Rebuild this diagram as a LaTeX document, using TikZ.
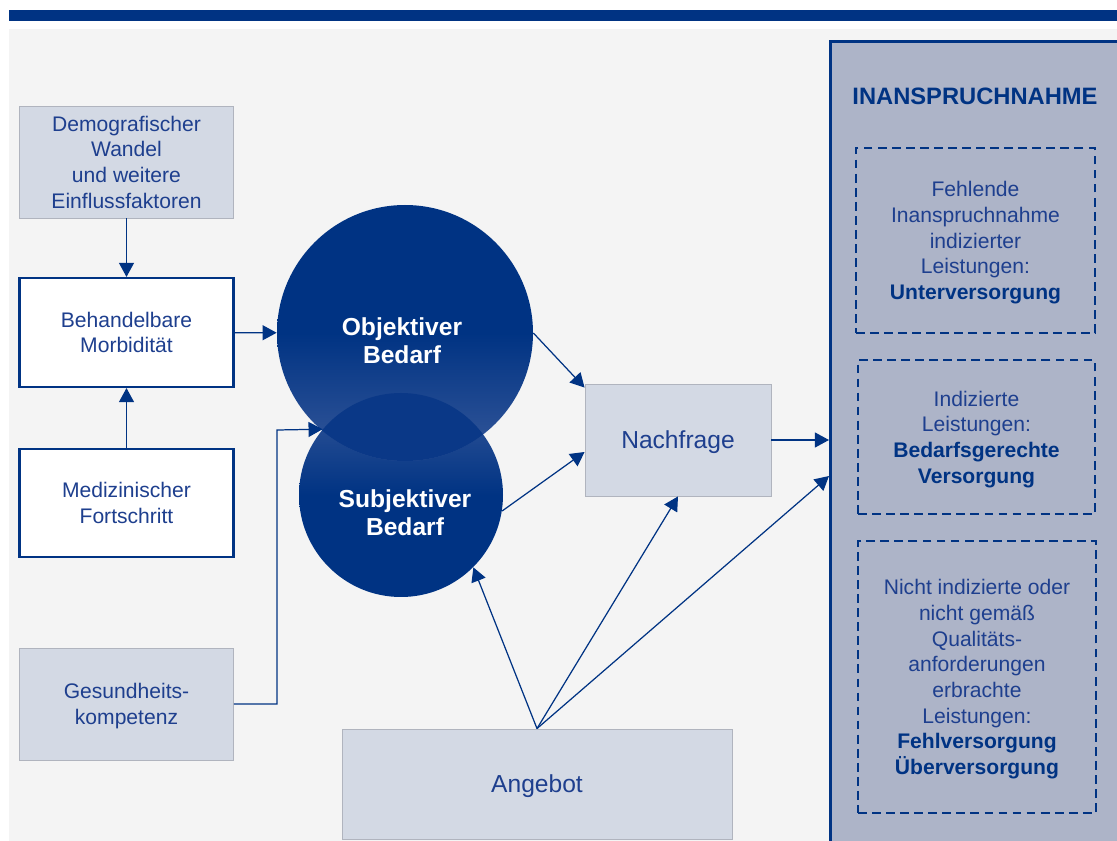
\documentclass[tikz,border=0pt]{standalone}
\usepackage{fontspec}
\setmainfont{Liberation Sans}
\usetikzlibrary{arrows.meta,positioning}

\begin{document}
\begin{tikzpicture}[x=0.02cm,y=-0.02cm,
    every node/.style={inner sep=0pt, align=center, text=txtBlue, text depth=0pt},
    boxsize/.style 2 args={minimum width=#1*0.02cm, minimum height=#2*0.02cm},
    smalltext/.style={font=\fontsize{12}{14.6}\selectfont},
    greybox/.style={smalltext, draw=edgeGrey, fill=fillGrey, line width=0.5pt},
    whitebox/.style={smalltext, draw=mainBlue, fill=white, line width=1.2pt},
    dashbox/.style={smalltext, draw=mainBlue, line width=1.4pt, dash pattern=on 5pt off 3pt},
    circletext/.style={font=\bfseries\fontsize{14}{16}\selectfont, text=white},
    arr/.style={draw=mainBlue, line width=0.7pt, -{Triangle[length=8pt,width=8.5pt]}}]
    \def\pxu{0.02cm}
    \definecolor{mainBlue}{RGB}{0,51,131}
    \definecolor{txtBlue}{RGB}{30,63,142}
    \definecolor{lightCircle}{RGB}{54,88,154}
    \definecolor{overlapBlue}{RGB}{10,56,135}
    \definecolor{fillGrey}{RGB}{211,217,228}
    \definecolor{edgeGrey}{RGB}{176,180,190}
    \definecolor{bgGrey}{RGB}{244,244,244}
    \definecolor{panelGrey}{RGB}{173,180,200}

    % Page and background
    \useasboundingbox (0,0) rectangle (1117,841);
    \fill[white] (0,0) rectangle (1117,841);
    \fill[bgGrey] (9,29) rectangle (1117,841);
    \fill[mainBlue] (9,10) rectangle (1117,21);

    % Right panel
    \node[draw=mainBlue, fill=panelGrey, line width=1.7pt, boxsize={300}{820}, anchor=north west] (panel) at (829,40) {};
    \node[font=\bfseries\fontsize{13.5}{16}\selectfont, text=mainBlue] (title) at (975,96) {INANSPRUCHNAHME};
    \node[dashbox, boxsize={239}{185}] (unter) at (975.5,240.5)
        {Fehlende\\Inanspruchnahme\\indizierter\\Leistungen:\\\textcolor{mainBlue}{\bfseries Unterversorgung}};
    \node[dashbox, boxsize={237}{154}] (bedarf) at (976.5,437)
        {Indizierte\\Leistungen:\\\textcolor{mainBlue}{\bfseries Bedarfsgerechte}\\\textcolor{mainBlue}{\bfseries Versorgung}};
    \node[dashbox, boxsize={238}{272}] (fehl) at (977,677)
        {Nicht indizierte oder\\nicht gemäß\\Qualitäts-\\anforderungen\\erbrachte\\Leistungen:\\\textcolor{mainBlue}{\bfseries Fehlversorgung}\\\textcolor{mainBlue}{\bfseries Überversorgung}};

    % Left column
    \node[greybox, boxsize={214}{112}] (demo) at (126.5,162) {Demografischer\\Wandel\\und weitere\\Einflussfaktoren};
    \node[whitebox, boxsize={214}{109}] (morb) at (126.5,332.5) {Behandelbare\\Morbidität};
    \node[whitebox, boxsize={214}{108}] (fort) at (126.5,503) {Medizinischer\\Fortschritt};
    \node[greybox, boxsize={214}{112}] (gesund) at (126.5,704) {Gesundheits-\\kompetenz};

    % Middle boxes
    \node[greybox, boxsize={186}{112}, font=\fontsize{14}{16}\selectfont] (nach) at (678,440) {Nachfrage};
    \node[greybox, boxsize={390}{110}, font=\fontsize{14}{16}\selectfont] (ang) at (537,784) {Angebot};

    % Circles
    \node[circle, boxsize={204}{204}, top color=lightCircle, bottom color=mainBlue, middle color=mainBlue] (sub) at (401,495) {};
    \node[circle, boxsize={256}{256}, top color=mainBlue, bottom color=lightCircle, middle color=mainBlue] (obj) at (405,333) {};
    \begin{scope}
        \clip (sub.center) circle [radius=102];
        \fill[overlapBlue] (obj.center) circle [radius=128];
    \end{scope}
    \node[circletext] (objtext) at (402,341) {Objektiver\\Bedarf};
    \node[circletext] (subtext) at (405,513) {Subjektiver\\Bedarf};

    % Connectors
    \coordinate (bend) at (277,430);
    \coordinate (panelin) at (panel.west |- 0,476);
    \draw[arr] (demo) -- (morb);
    \draw[arr] (fort) -- (morb);
    \draw[arr] (morb) -- (obj);
    \draw[arr] (gesund.east) -| (bend) -- (sub.140.6);
    \draw[arr] (obj.east) -- ([yshift=-4*\pxu]nach.north west);
    \draw[arr] (sub.-9.5) -- ([yshift=-12*\pxu]nach.west);
    \draw[arr] (nach.east) -- (nach.east -| panel.west);
    \draw[arr] (ang.north) -- (sub.-45.4);
    \draw[arr] (ang.north) -- (nach.south);
    \draw[arr] (ang.north) -- (panelin);

\end{tikzpicture}
\end{document}
